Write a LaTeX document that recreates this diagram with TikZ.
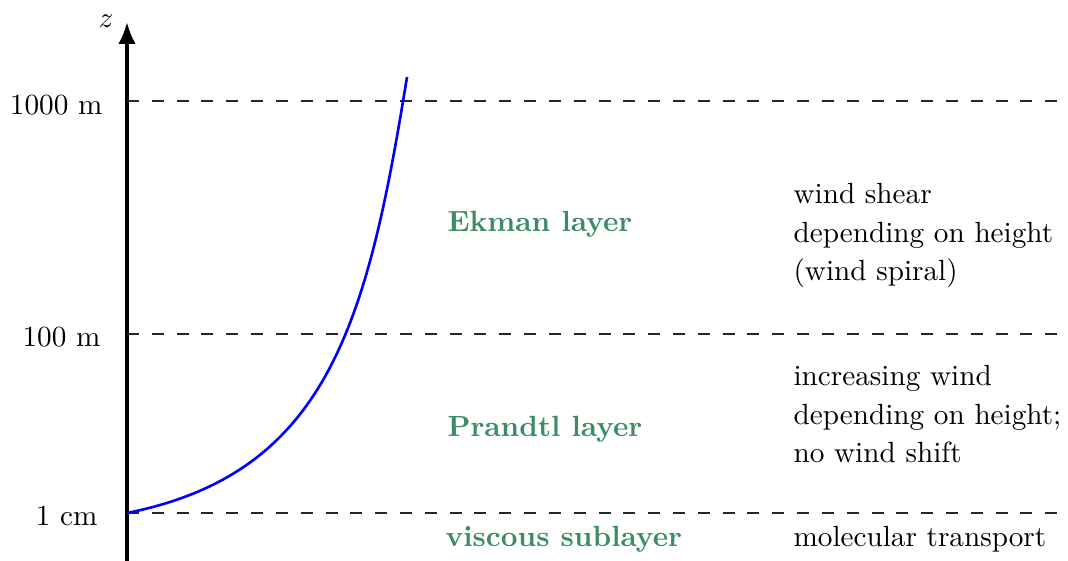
\documentclass[tikz,border=0pt]{standalone}
\usetikzlibrary{arrows.meta}
\definecolor{layergreen}{RGB}{60,140,100}
\begin{document}
\begin{tikzpicture}[x=0.3425pt,y=-0.3425pt,
  axisline/.style={line width=1.2pt,-{Latex[length=7.5pt,width=6pt]}},
  levelline/.style={dash pattern=on 4.1pt off 4.4pt, line width=0.7pt, black!85},
  layername/.style={font=\bfseries, text=layergreen, anchor=base west, inner sep=0pt},
  desc/.style={align=left, anchor=north west, inner sep=0pt},
  ticklabel/.style={anchor=base east, inner sep=0pt},
  profile/.style={blue, line width=0.9pt}]
\useasboundingbox (0,0) rectangle (1068,561);
% axis
\coordinate (axbot) at (127,566);
\coordinate (axtop) at (127,22);
\draw[axisline] (axbot) -- (axtop);
\node[inner sep=0pt] (zlab) at (106,21) {$z$};
% levels
\coordinate (l1a) at (127,101);  \coordinate (l1b) at (1065,101);
\coordinate (l2a) at (127,334);  \coordinate (l2b) at (1065,334);
\coordinate (l3a) at (127,513);  \coordinate (l3b) at (1065,513);
\draw[levelline] (l1a) -- (l1b);
\draw[levelline] (l2a) -- (l2b);
\draw[levelline] (l3a) -- (l3b);
\node[ticklabel] (t1) at (103,115) {1000 m};
\node[ticklabel] (t2) at (101,347) {100 m};
\node[ticklabel] (t3) at (98,526) {1 cm};
% wind profile
\coordinate (p0) at (127,513);
\coordinate (p1) at (407,77);
\draw[profile] (p0) .. controls (327,473) and (367,325) .. (p1);
% layer names
\node[layername] (ekman) at (447,232) {Ekman layer};
\node[layername] (prandtl) at (447,437) {Prandtl layer};
\node[layername] (viscous) at (445,547) {viscous sublayer};
% descriptions
\node[desc] (d1) at (793,183) {wind shear\\[1.2pt] depending on height\\[1.2pt] (wind spiral)};
\node[desc] (d2) at (793,365) {increasing wind\\[1.2pt] depending on height;\\[1.2pt] no wind shift};
\node[anchor=base west, inner sep=0pt] (d3) at (793,547) {molecular transport};
\end{tikzpicture}
\end{document}
